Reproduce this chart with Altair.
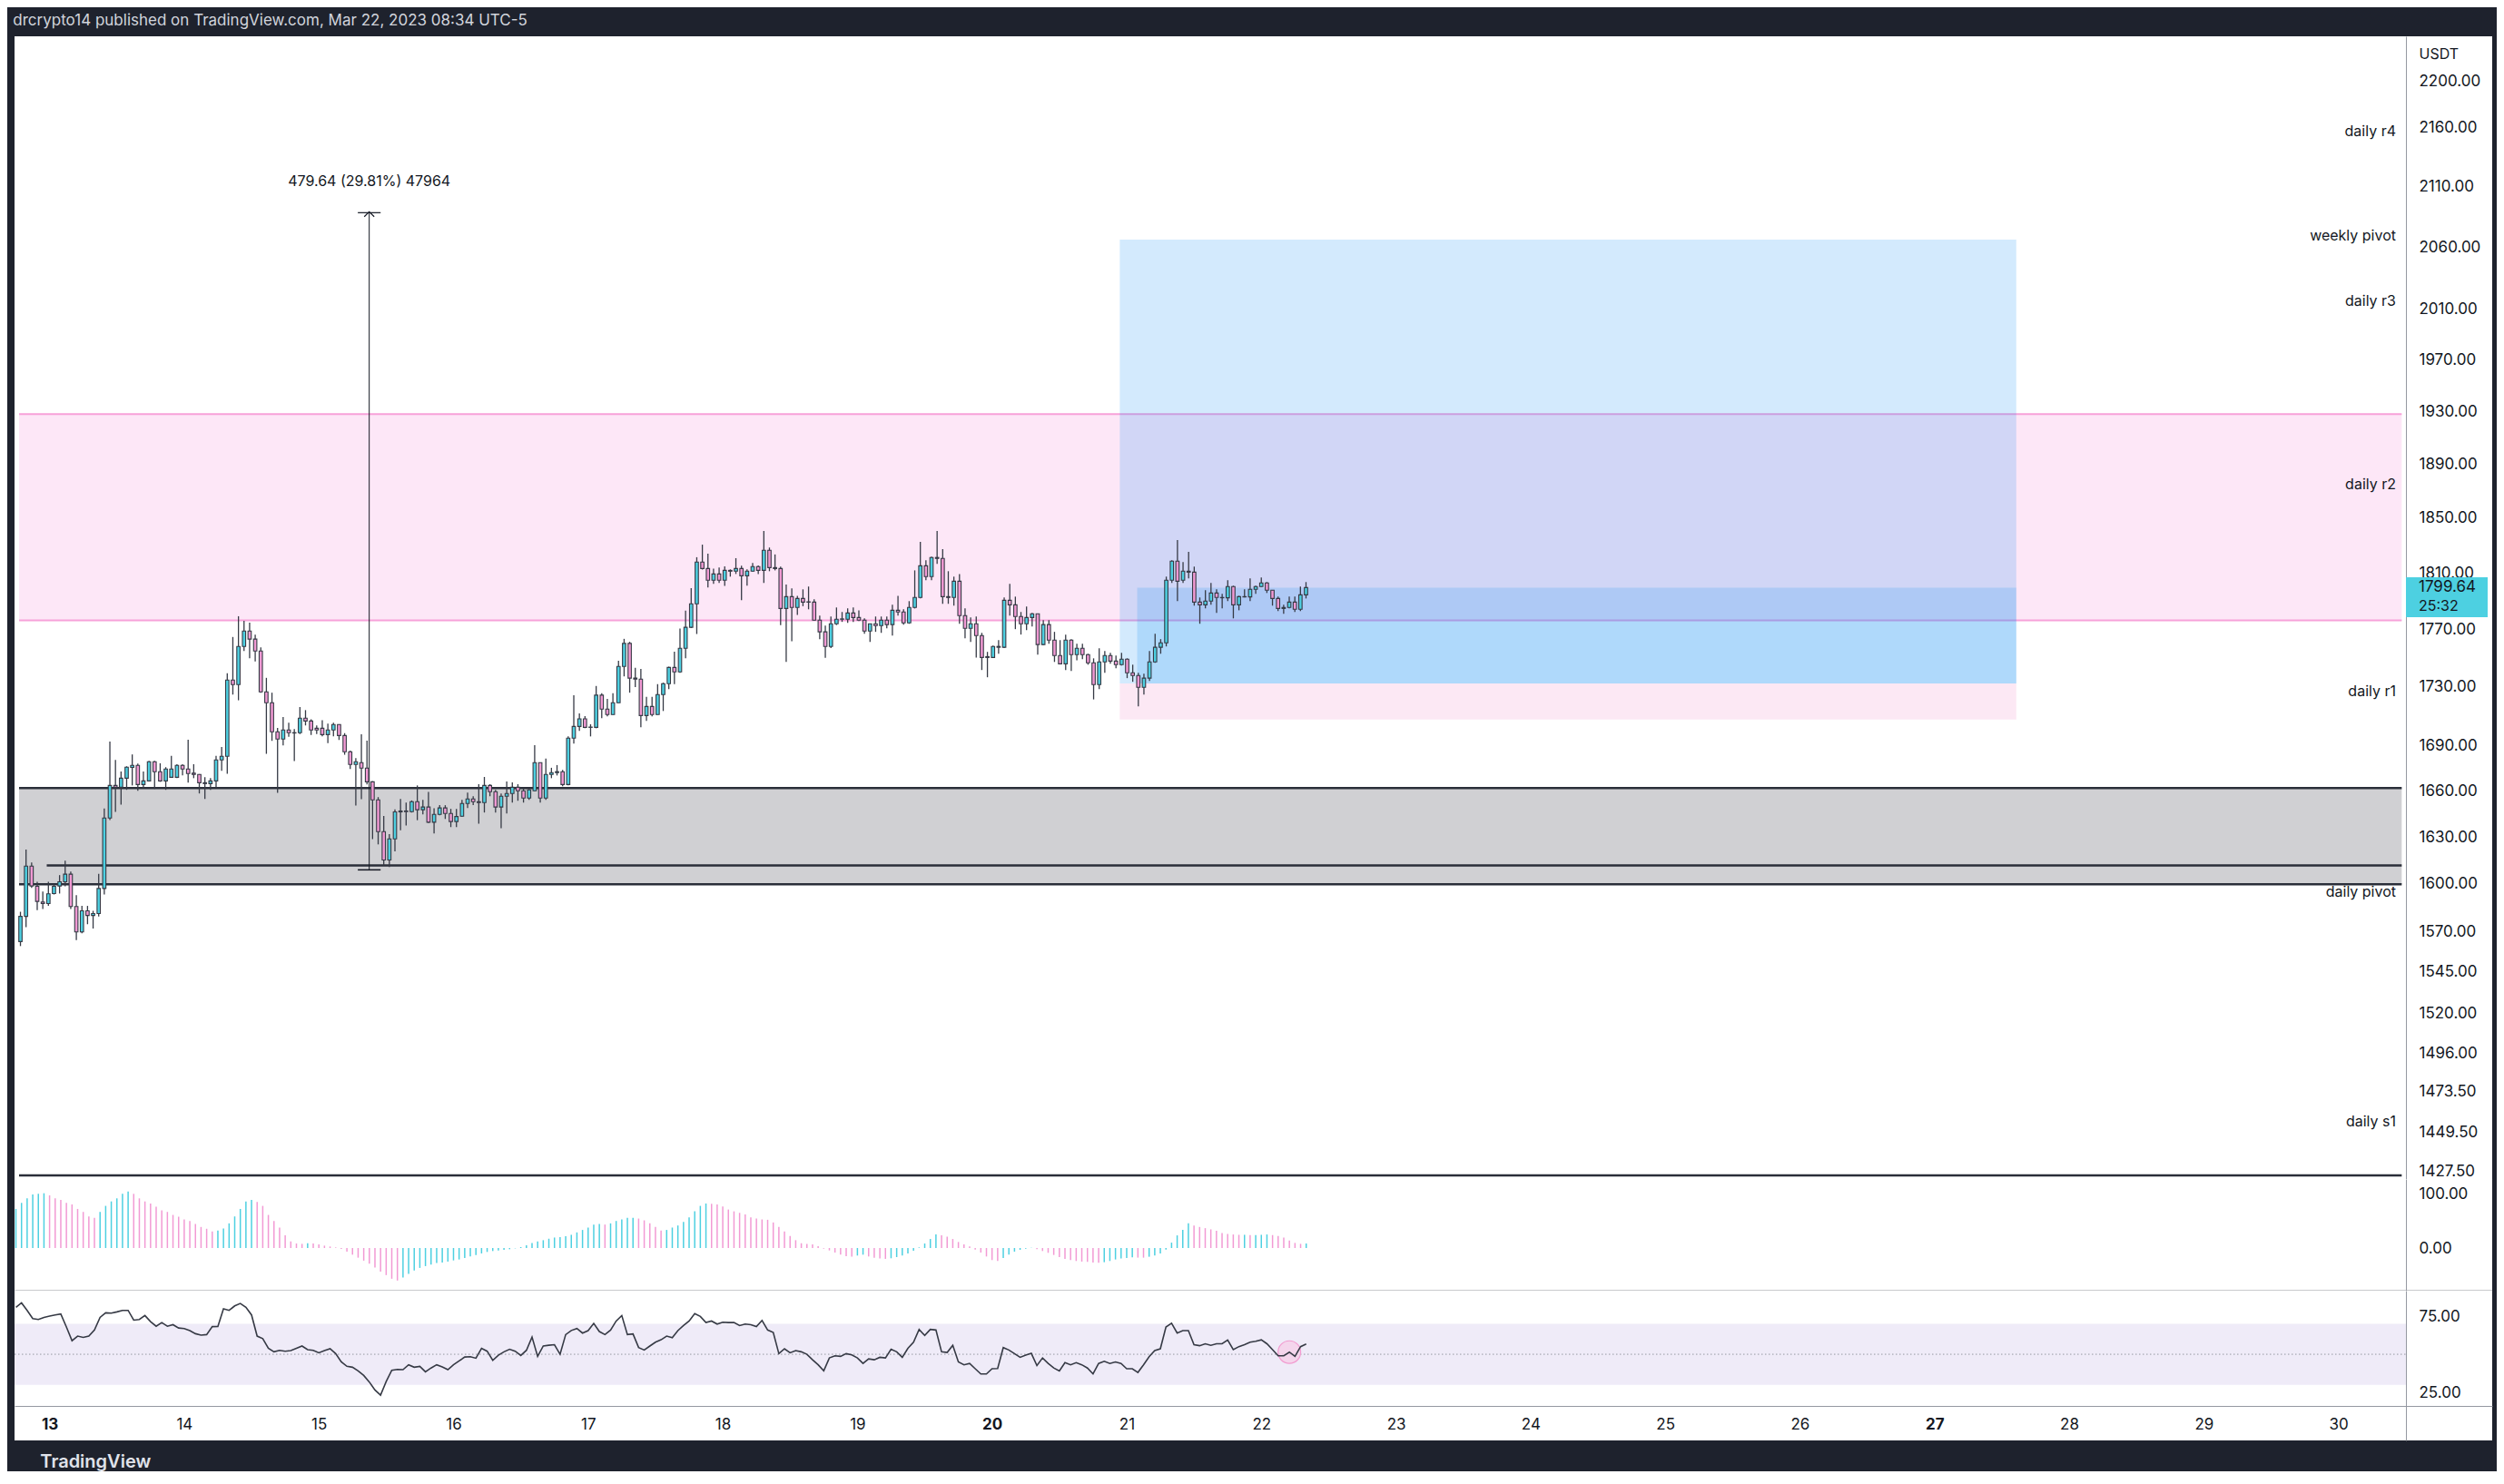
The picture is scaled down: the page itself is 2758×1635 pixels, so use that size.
import altair as alt
import pandas as pd

# ------------------------------------------------------------------ data
HEADER = "drcrypto14 published on TradingView.com, Mar 22, 2023 08:34 UTC-5"
FIRST_DAY = 12.75          # first hourly candle: Mar 12, 18:00
STEP = 1 / 24              # one hour, in days

opens = [1563.7, 1579.4, 1611.2, 1598.4, 1588.4, 1587.5, 1593.8, 1598.6, 1601.3, 1606.1,
         1585.6, 1569.7, 1582.9, 1580.0, 1581.2, 1597.0, 1642.3, 1663.7, 1662.5, 1668.5,
         1675.6, 1677.0, 1664.3, 1666.7, 1679.4, 1672.8, 1666.7, 1669.1, 1669.1, 1677.0,
         1674.6, 1671.8, 1671.0, 1665.5, 1664.9, 1666.7, 1680.6, 1683.1, 1734.8, 1731.7,
         1758.1, 1768.9, 1763.2, 1754.9, 1726.7, 1719.2, 1699.5, 1694.6, 1700.7, 1698.9,
         1698.9, 1708.7, 1706.8, 1701.9, 1701.9, 1697.6, 1700.7, 1704.4, 1697.0, 1686.1,
         1677.6, 1678.8, 1675.2, 1666.1, 1654.2, 1633.5, 1615.2, 1628.8, 1646.3, 1646.9,
         1646.5, 1653.0, 1647.7, 1649.5, 1639.6, 1644.7, 1648.9, 1645.3, 1640.0, 1643.5,
         1651.8, 1654.8, 1653.0, 1652.4, 1663.7, 1659.6, 1649.5, 1656.6, 1658.4, 1662.5,
         1660.2, 1655.4, 1660.2, 1678.8, 1655.4, 1671.0, 1672.2, 1672.8, 1664.3, 1695.2,
         1703.1, 1708.3, 1702.7, 1702.5, 1724.4, 1714.9, 1711.2, 1719.2, 1744.2, 1760.2,
         1736.1, 1735.4, 1710.5, 1716.7, 1711.2, 1724.8, 1732.3, 1743.5, 1740.4, 1756.8,
         1771.5, 1788.1, 1818.0, 1813.3, 1804.9, 1809.4, 1804.9, 1812.0, 1811.4, 1813.3,
         1808.1, 1811.4, 1814.7, 1812.0, 1826.5, 1814.0, 1813.3, 1784.8, 1793.2, 1785.5,
         1791.9, 1789.5, 1789.3, 1776.5, 1768.3, 1758.1, 1774.0, 1777.2, 1777.2, 1781.6,
         1778.4, 1776.5, 1768.9, 1774.0, 1772.7, 1776.5, 1773.4, 1783.5, 1782.3, 1774.6,
         1785.5, 1792.6, 1815.3, 1807.5, 1821.3, 1820.6, 1793.2, 1792.6, 1804.2, 1779.7,
         1770.8, 1774.0, 1765.7, 1751.0, 1750.4, 1758.1, 1757.5, 1790.6, 1787.4, 1779.1,
         1774.0, 1778.4, 1781.0, 1759.4, 1773.4, 1762.5, 1751.7, 1746.0, 1762.5, 1752.4,
         1756.8, 1752.4, 1746.7, 1731.7, 1747.3, 1751.7, 1747.9, 1745.4, 1749.2, 1739.8,
         1737.9, 1729.8, 1736.1, 1747.3, 1757.5, 1760.6, 1804.9, 1818.6, 1804.9, 1811.4,
         1810.7, 1789.3, 1787.4, 1790.0, 1795.8, 1792.6, 1792.4, 1800.4, 1787.4, 1793.2,
         1793.0, 1798.4, 1800.4, 1803.0, 1797.8, 1791.9, 1784.8, 1785.5, 1789.3, 1784.2,
         1794.5]
highs = [1582.3, 1621.9, 1613.5, 1601.3, 1595.1, 1601.3, 1599.7, 1605.5, 1614.8, 1607.7,
         1592.8, 1586.0, 1586.0, 1582.9, 1606.3, 1648.5, 1693.0, 1680.6, 1673.0, 1676.4,
         1684.3, 1678.2, 1673.0, 1680.0, 1680.0, 1678.4, 1675.8, 1683.3, 1677.8, 1677.8,
         1694.2, 1677.8, 1671.2, 1669.1, 1668.5, 1683.3, 1689.3, 1739.4, 1764.7, 1779.3,
         1776.1, 1774.8, 1766.4, 1757.5, 1736.3, 1726.1, 1702.1, 1709.5, 1705.6, 1701.3,
         1716.3, 1714.2, 1708.0, 1703.8, 1707.4, 1705.0, 1705.6, 1704.6, 1698.6, 1686.9,
         1681.9, 1697.8, 1693.6, 1666.5, 1656.0, 1643.7, 1631.9, 1647.9, 1654.8, 1652.4,
         1653.8, 1663.7, 1654.2, 1659.4, 1648.7, 1650.7, 1650.7, 1648.3, 1648.3, 1654.2,
         1659.0, 1656.6, 1664.5, 1669.3, 1664.5, 1660.8, 1658.4, 1666.3, 1665.7, 1664.5,
         1661.9, 1661.3, 1690.5, 1679.0, 1681.5, 1675.4, 1677.2, 1674.0, 1696.4, 1724.4,
         1712.0, 1710.1, 1704.6, 1730.7, 1725.7, 1721.9, 1725.7, 1748.1, 1763.4, 1761.3,
         1743.3, 1742.5, 1723.2, 1723.2, 1731.9, 1733.0, 1744.0, 1754.5, 1770.6, 1783.3,
         1799.3, 1821.5, 1830.6, 1824.1, 1813.3, 1814.0, 1814.9, 1812.7, 1820.8, 1815.3,
         1812.7, 1817.3, 1815.6, 1840.6, 1828.5, 1823.5, 1814.7, 1801.9, 1799.1, 1793.8,
         1798.4, 1800.4, 1791.3, 1779.7, 1772.7, 1779.1, 1785.5, 1782.3, 1784.8, 1785.5,
         1783.5, 1777.8, 1774.2, 1779.1, 1779.1, 1779.1, 1787.4, 1793.8, 1784.2, 1790.0,
         1812.0, 1832.6, 1819.3, 1822.0, 1840.6, 1827.4, 1811.4, 1807.5, 1809.4, 1784.8,
         1778.4, 1779.1, 1767.6, 1754.3, 1758.7, 1762.5, 1792.6, 1802.3, 1793.2, 1782.3,
         1786.1, 1781.6, 1781.2, 1776.5, 1776.5, 1768.3, 1762.5, 1766.4, 1763.2, 1760.0,
         1760.0, 1753.0, 1749.8, 1756.8, 1754.9, 1753.6, 1751.7, 1753.6, 1749.8, 1745.4,
         1739.8, 1739.2, 1754.9, 1767.0, 1763.2, 1807.5, 1819.3, 1833.9, 1818.0, 1825.4,
         1814.7, 1792.6, 1797.8, 1803.0, 1798.4, 1795.2, 1804.9, 1801.0, 1793.8, 1798.4,
         1806.2, 1801.0, 1806.9, 1803.6, 1797.9, 1793.2, 1787.4, 1793.2, 1793.2, 1800.4,
         1803.6]
lows = [1560.9, 1572.6, 1597.4, 1583.3, 1584.0, 1586.0, 1593.2, 1593.8, 1598.4, 1584.0,
        1564.6, 1568.8, 1574.5, 1571.8, 1579.4, 1593.2, 1641.0, 1646.3, 1651.0, 1660.8,
        1663.7, 1660.2, 1661.7, 1666.5, 1661.3, 1666.1, 1660.8, 1669.1, 1668.5, 1670.3,
        1665.5, 1668.5, 1658.4, 1654.8, 1660.8, 1662.3, 1673.4, 1671.4, 1724.8, 1720.9,
        1754.9, 1749.8, 1747.7, 1726.0, 1684.7, 1693.4, 1658.8, 1690.3, 1696.2, 1679.8,
        1698.0, 1703.8, 1697.4, 1698.0, 1696.4, 1691.9, 1696.4, 1694.0, 1684.1, 1674.6,
        1650.5, 1654.6, 1664.3, 1628.6, 1625.2, 1611.7, 1610.6, 1620.7, 1634.4, 1637.5,
        1645.9, 1640.9, 1644.7, 1639.0, 1632.3, 1644.1, 1641.7, 1636.4, 1636.4, 1643.0,
        1648.9, 1650.7, 1638.6, 1645.9, 1656.6, 1645.9, 1635.6, 1645.3, 1652.4, 1653.6,
        1652.4, 1654.2, 1660.0, 1652.4, 1654.2, 1668.5, 1670.3, 1663.1, 1663.7, 1691.6,
        1700.1, 1702.0, 1696.4, 1701.9, 1708.7, 1710.0, 1711.0, 1719.0, 1737.3, 1726.1,
        1730.0, 1702.5, 1706.8, 1710.0, 1711.0, 1713.6, 1728.6, 1732.0, 1739.8, 1749.8,
        1771.0, 1766.8, 1812.6, 1799.7, 1802.3, 1803.0, 1800.8, 1807.5, 1809.4, 1790.6,
        1801.0, 1811.0, 1809.4, 1803.0, 1811.4, 1812.0, 1773.1, 1747.3, 1761.7, 1780.3,
        1786.4, 1784.2, 1776.0, 1763.2, 1750.2, 1757.0, 1773.1, 1775.3, 1774.6, 1775.3,
        1775.9, 1767.0, 1761.3, 1768.3, 1767.6, 1770.8, 1765.7, 1779.7, 1773.4, 1774.0,
        1784.8, 1792.0, 1804.9, 1804.9, 1816.6, 1788.1, 1788.1, 1786.8, 1774.0, 1763.8,
        1761.3, 1750.4, 1741.7, 1736.7, 1750.4, 1753.0, 1757.0, 1779.7, 1770.2, 1766.4,
        1769.5, 1772.1, 1752.4, 1759.0, 1760.0, 1747.3, 1745.8, 1741.7, 1741.1, 1748.5,
        1749.2, 1745.4, 1721.5, 1728.6, 1739.8, 1746.0, 1742.9, 1744.8, 1736.1, 1733.6,
        1716.7, 1724.8, 1734.2, 1746.7, 1753.0, 1758.1, 1803.0, 1790.0, 1803.0, 1806.2,
        1786.8, 1774.0, 1784.8, 1787.4, 1781.6, 1784.8, 1790.0, 1777.8, 1783.5, 1792.6,
        1790.0, 1795.2, 1800.0, 1795.8, 1786.8, 1782.9, 1781.0, 1784.8, 1782.3, 1782.9,
        1791.9]
closes = [1579.4, 1611.2, 1598.6, 1588.8, 1587.5, 1593.6, 1598.4, 1601.3, 1606.1, 1585.6,
          1569.7, 1582.9, 1580.0, 1581.2, 1597.0, 1642.3, 1663.7, 1662.5, 1668.5, 1675.8,
          1677.0, 1664.3, 1666.7, 1679.4, 1672.8, 1666.7, 1674.6, 1674.6, 1677.0, 1674.6,
          1671.6, 1671.0, 1665.5, 1664.9, 1666.7, 1680.6, 1683.1, 1734.8, 1731.7, 1758.1,
          1768.9, 1763.2, 1754.9, 1726.7, 1719.2, 1699.5, 1694.6, 1700.7, 1698.9, 1698.7,
          1708.7, 1706.8, 1700.7, 1700.7, 1697.6, 1700.7, 1704.4, 1697.0, 1686.1, 1677.6,
          1679.4, 1675.2, 1666.1, 1654.2, 1633.5, 1615.2, 1628.8, 1646.3, 1646.9, 1646.5,
          1653.0, 1647.7, 1649.5, 1639.6, 1644.7, 1648.9, 1645.3, 1640.0, 1643.3, 1651.8,
          1654.8, 1653.0, 1652.4, 1663.7, 1659.6, 1649.5, 1656.6, 1658.4, 1662.5, 1660.2,
          1655.4, 1660.8, 1678.8, 1655.4, 1671.0, 1672.2, 1672.8, 1664.3, 1695.2, 1703.1,
          1708.3, 1702.5, 1702.5, 1724.4, 1714.9, 1711.2, 1719.2, 1744.2, 1760.2, 1736.1,
          1735.4, 1710.5, 1716.7, 1711.2, 1724.8, 1732.3, 1743.5, 1740.4, 1756.8, 1771.5,
          1788.1, 1818.0, 1813.3, 1804.9, 1809.4, 1804.9, 1812.0, 1811.4, 1813.3, 1808.1,
          1811.4, 1814.7, 1812.0, 1826.5, 1814.0, 1813.3, 1784.8, 1793.2, 1785.5, 1791.9,
          1789.3, 1789.3, 1776.5, 1768.3, 1758.1, 1774.0, 1777.2, 1777.4, 1781.6, 1778.4,
          1776.5, 1768.9, 1774.0, 1772.7, 1776.5, 1773.4, 1783.5, 1782.3, 1774.6, 1785.5,
          1792.6, 1815.3, 1807.5, 1821.3, 1820.6, 1793.2, 1792.6, 1804.2, 1779.7, 1770.8,
          1774.0, 1765.7, 1750.4, 1750.4, 1758.1, 1757.5, 1790.6, 1787.4, 1779.1, 1774.0,
          1778.4, 1781.0, 1759.4, 1773.4, 1762.5, 1751.7, 1746.0, 1762.5, 1752.4, 1756.8,
          1752.4, 1746.7, 1731.7, 1747.3, 1751.7, 1747.9, 1745.4, 1749.2, 1739.8, 1737.9,
          1729.8, 1736.1, 1747.3, 1757.5, 1760.6, 1804.9, 1818.6, 1804.2, 1811.4, 1810.7,
          1789.3, 1787.4, 1790.0, 1795.8, 1792.6, 1792.4, 1800.4, 1787.4, 1793.2, 1793.0,
          1798.4, 1800.4, 1803.0, 1797.8, 1791.9, 1784.8, 1785.5, 1789.3, 1784.2, 1794.5,
          1799.64]

macd_hist = [71.8, 82.9, 91.2, 98.3, 99.5, 100.6, 96.7, 91.2, 88.4, 82.9,
             80.1, 71.8, 66.3, 58.0, 55.3, 66.3, 77.4, 85.6, 91.2, 99.5,
             103.9, 99.5, 91.2, 85.6, 81.8, 75.7, 69.1, 66.3, 60.8, 57.5,
             52.5, 49.7, 44.2, 38.7, 35.4, 30.4, 32.0, 35.9, 45.3, 58.0,
             71.8, 85.6, 88.4, 84.5, 77.4, 60.8, 49.7, 37.6, 23.2, 12.2,
             8.3, 7.7, 8.8, 8.3, 6.6, 4.4, 2.8, 1.1, -1.7, -6.6,
             -12.2, -17.7, -23.2, -28.7, -35.9, -43.1, -49.7, -56.4, -59.7, -54.1,
             -47.5, -41.4, -36.5, -33.2, -30.4, -27.6, -26.5, -24.9, -22.7, -21.0,
             -18.2, -15.5, -12.7, -9.9, -7.2, -5.5, -4.4, -3.3, -2.2, -0.6,
             1.7, 5.0, 9.4, 12.2, 14.4, 17.1, 19.3, 19.9, 21.5, 24.3,
             28.7, 33.2, 37.6, 43.1, 44.2, 43.1, 45.3, 49.7, 52.5, 55.3,
             55.3, 54.1, 50.8, 45.3, 38.7, 32.0, 33.2, 37.6, 41.4, 48.1,
             56.4, 67.4, 77.4, 81.8, 81.2, 80.1, 76.2, 70.7, 67.4, 64.6,
             61.9, 56.4, 54.1, 52.5, 51.9, 47.0, 38.7, 30.4, 22.1, 14.4,
             8.8, 7.7, 6.6, 3.3, -1.1, -4.4, -8.3, -12.2, -14.9, -16.0,
             -13.8, -12.2, -15.5, -17.7, -19.3, -19.9, -18.8, -16.6, -13.8, -9.9,
             -5.0, 1.1, 8.3, 16.6, 24.9, 23.2, 21.0, 16.6, 11.1, 6.6,
             2.8, -2.8, -8.3, -15.5, -22.1, -23.8, -18.2, -12.2, -6.6, -3.3,
             -1.1, 0.3, -2.2, -5.5, -8.8, -12.7, -16.6, -19.9, -22.1, -23.8,
             -24.9, -25.4, -26.5, -27.1, -26.0, -23.8, -21.0, -19.3, -18.2, -17.1,
             -17.6, -17.7, -16.0, -13.8, -9.9, -2.8, 9.9, 23.2, 33.2, 45.3,
             41.4, 38.7, 36.5, 34.3, 31.5, 27.6, 26.0, 24.9, 24.3, 24.3,
             23.8, 23.8, 24.3, 24.9, 23.8, 22.1, 19.3, 13.8, 9.4, 7.7,
             8.3]

rsi = [80.8, 83.7, 78.8, 73.4, 72.8, 74.2, 75.0, 75.8, 76.4, 67.9,
       58.9, 61.9, 61.1, 61.9, 65.9, 74.2, 77.2, 77.0, 77.8, 78.8,
       78.8, 72.4, 72.8, 75.4, 71.4, 68.4, 70.8, 68.4, 69.4, 67.2,
       66.9, 65.5, 63.5, 62.5, 62.9, 68.1, 68.2, 79.8, 78.8, 81.7,
       83.3, 80.8, 75.8, 61.9, 60.3, 53.9, 51.6, 52.6, 52.0, 52.4,
       53.9, 55.4, 53.0, 52.6, 51.0, 52.4, 53.6, 50.4, 45.0, 42.1,
       41.5, 39.1, 36.1, 31.8, 26.6, 23.2, 32.1, 39.5, 40.1, 39.9,
       43.1, 41.5, 42.1, 38.5, 41.0, 43.1, 41.7, 39.9, 43.1, 45.6,
       48.2, 48.4, 47.4, 53.9, 52.0, 46.0, 49.4, 51.6, 53.3, 52.0,
       49.2, 52.6, 61.3, 48.6, 55.4, 55.9, 56.3, 50.0, 62.9, 65.6,
       66.9, 63.9, 65.5, 70.2, 64.9, 62.9, 65.9, 71.8, 75.4, 62.9,
       63.3, 54.4, 52.8, 55.4, 57.9, 59.5, 61.9, 60.9, 65.5, 68.8,
       71.8, 76.6, 74.8, 70.8, 71.8, 69.8, 71.0, 70.8, 70.8, 68.8,
       69.8, 69.4, 68.2, 72.2, 65.9, 64.3, 50.4, 53.6, 51.0, 52.4,
       51.6, 50.0, 46.4, 43.1, 39.1, 47.6, 49.0, 48.6, 50.4, 49.6,
       47.6, 44.0, 47.0, 46.4, 48.0, 47.6, 53.3, 51.6, 48.0, 53.9,
       57.9, 66.3, 62.3, 66.3, 65.9, 51.6, 51.2, 55.9, 45.0, 43.1,
       44.0, 40.5, 37.1, 37.1, 40.5, 40.7, 54.4, 52.8, 50.4, 48.0,
       49.4, 50.6, 42.6, 47.6, 44.0, 41.0, 39.1, 44.5, 43.1, 44.5,
       43.1, 41.0, 37.1, 44.0, 45.4, 44.0, 45.0, 44.0, 40.5, 40.5,
       38.1, 43.1, 48.4, 52.4, 53.6, 67.9, 70.4, 63.9, 65.5, 65.5,
       56.3, 55.6, 56.9, 55.9, 56.9, 56.9, 59.3, 53.0, 55.0, 56.3,
       57.9, 58.5, 59.5, 56.9, 53.0, 49.0, 49.0, 51.4, 48.6, 55.0,
       56.7]

price_ticks = [2200, 2160, 2110, 2060, 2010, 1970, 1930, 1890, 1850, 1810, 1770, 1730,
               1690, 1660, 1630, 1600, 1570, 1545, 1520, 1496, 1473.5, 1449.5, 1427.5]
day_ticks = list(range(13, 31))
bold_days = [13, 20, 27]

pivot_names = ["daily r4", "weekly pivot", "daily r3", "daily r2", "daily r1",
               "daily pivot", "daily s1"]
pivot_label_prices = [2157, 2069, 2016, 1875, 1726.8, 1594.4, 1455.7]

pink_zone = [1776.3, 1928.0]
gray_zone = [1599.6, 1662.0]
gray_mid_line = 1611.7
gray_mid_start = 12.946
low_line = 1425.1

measure_day = 15.35
measure_tick = [15.265, 15.435]
measure_low, measure_high = 1608.86, 2088.50
measure_text = "479.64 (29.81%) 47964"

pos_start, pos_trigger, pos_end = 20.945, 21.075, 27.628
pos_target, pos_entry, pos_stop = 2066.3, 1732.4, 1707.8
countdown = "25:32"
rsi_marker_index = 227

# ------------------------------------------------------------------ layout
W = 2729
H_MAIN, H_HIST, H_RSI = 1259, 123, 165
X_DOMAIN = [12.7397, 31.142]
AXIS_OFFSET = 95                       # price axis sits this far inside the right edge
axis_day = X_DOMAIN[0] + (W - AXIS_OFFSET) / W * (X_DOMAIN[1] - X_DOMAIN[0])
left_day = X_DOMAIN[0]

FONT = "Inter"
INK = "#131722"
DARK = "#2a2e39"
WICK = "#363a45"
CYAN = "#4dd0e1"
PINK = "#f29ad4"
AXIS_GRAY = "#9598a1"

n = len(closes)
days = [FIRST_DAY + i * STEP for i in range(n)]
candles = pd.DataFrame({"day": days, "open": opens, "high": highs, "low": lows, "close": closes})
candles["dir"] = ["up" if c >= o else "down" for o, c in zip(opens, closes)]

hist_df = pd.DataFrame({"day": days, "v": macd_hist})
hist_df["dir"] = ["up" if i == 0 or v >= macd_hist[i - 1] else "down" for i, v in enumerate(macd_hist)]
rsi_df = pd.DataFrame({"day": days, "rsi": rsi})

sx = alt.Scale(domain=X_DOMAIN, nice=False, zero=False)
sy = alt.Scale(type="log", domain=[1423, 2240], nice=False, zero=False)
dir_color = alt.Scale(domain=["up", "down"], range=[CYAN, PINK])


def right_axis(values, **kw):
    return alt.Axis(orient="right", offset=-AXIS_OFFSET, values=values, format=".2f",
                    labelAlign="left", labelBaseline="middle", labelPadding=14,
                    ticks=False, grid=False, domainColor=AXIS_GRAY, labelOverlap=False,
                    labelBound=False, labelFlush=False, **kw)


main_x_axis = alt.Axis(labels=False, ticks=False, grid=False, title=None,
                       domainColor=DARK, domainWidth=1)
main_y_axis = right_axis(price_ticks, title="USDT", titleAngle=0, titleX=14, titleY=19,
                         titleAlign="left", titleBaseline="middle", titleFontWeight="normal",
                         titleFontSize=16, titleColor=INK)

MX = lambda f="day": alt.X(f, type="quantitative", scale=sx, axis=main_x_axis)
MY = lambda f: alt.Y(f, type="quantitative", scale=sy, axis=main_y_axis)

# ------------------------------------------------------------------ main pane
def zone(x0, x1, y0, y1, **mk):
    df = pd.DataFrame({"x0": [x0], "x1": [x1], "y0": [y0], "y1": [y1]})
    return alt.Chart(df).mark_rect(clip=True, **mk).encode(
        x=MX("x0"), x2="x1", y=MY("y0"), y2="y1")


def hline(x0, x1, y, **mk):
    df = pd.DataFrame({"x0": [x0], "x1": [x1], "y": [y]})
    return alt.Chart(df).mark_rule(clip=True, **mk).encode(
        x=MX("x0"), x2="x1", y=MY("y"))


layers = [
    zone(left_day, axis_day, pink_zone[0], pink_zone[1], color="#fde7f7"),
    hline(left_day, axis_day, pink_zone[0], color="#f7a1d9", strokeWidth=2),
    hline(left_day, axis_day, pink_zone[1], color="#f7a1d9", strokeWidth=2),
    zone(left_day, axis_day, gray_zone[0], gray_zone[1], color="#d0d0d3"),
    hline(left_day, axis_day, gray_zone[0], color=DARK, strokeWidth=2.5),
    hline(left_day, axis_day, gray_zone[1], color=DARK, strokeWidth=2.5),
    hline(gray_mid_start, axis_day, gray_mid_line, color=DARK, strokeWidth=2.5),
    hline(left_day, axis_day, low_line, color=DARK, strokeWidth=2.5),
    zone(pos_start, pos_end, pos_entry, pos_target, color="#2196f3", opacity=0.2),
    zone(pos_start, pos_end, pos_stop, pos_entry, color="#fce8f4"),
    zone(pos_trigger, pos_end, pos_entry, closes[-1], color="#2196f3", opacity=0.2),
]

# measurement tool
mdf = pd.DataFrame({"d": [measure_day], "lo": [measure_low], "hi": [measure_high],
                    "t0": [measure_tick[0]], "t1": [measure_tick[1]], "txt": [measure_text]})
layers += [
    alt.Chart(mdf).mark_rule(color=INK, strokeWidth=1).encode(x=MX("d"), y=MY("lo"), y2="hi"),
    alt.Chart(mdf).mark_rule(color=INK, strokeWidth=1.5).encode(x=MX("t0"), x2="t1", y=MY("lo")),
    alt.Chart(mdf).mark_point(shape="M-1,0.8L0,-0.2L1,0.8", size=120, filled=False,
                              color=INK, strokeWidth=1.2, opacity=1).encode(x=MX("d"), y=MY("hi")),
    alt.Chart(mdf).mark_rule(color=INK, strokeWidth=1.2).encode(x=MX("t0"), x2="t1", y=MY("hi")),
    alt.Chart(mdf).mark_text(font=FONT, fontSize=16, color=INK, dy=-34, align="center").encode(
        x=MX("d"), y=MY("hi"), text="txt:N"),
]

# candles
cbase = alt.Chart(candles)
layers += [
    cbase.mark_rule(color=WICK, strokeWidth=1.3, clip=True).encode(x=MX(), y=MY("low"), y2="high"),
    cbase.mark_bar(width=3.6, stroke=WICK, strokeWidth=1.1, clip=True).encode(
        x=MX(), y=MY("open"), y2="close",
        color=alt.Color("dir:N", scale=dir_color, legend=None)),
]

# pivot labels
pdf = pd.DataFrame({"name": pivot_names, "p": pivot_label_prices})
layers.append(
    alt.Chart(pdf).mark_text(font=FONT, fontSize=16, color=INK, align="right", baseline="middle").encode(
        x=alt.value(W - 106), y=MY("p"), text="name:N"))

# last price tag
tag = pd.DataFrame({"p": [closes[-1]], "txt": [f"{closes[-1]:.2f}"], "cd": [countdown]})
layers += [
    alt.Chart(tag).mark_point(shape="M-1,-0.489H1V0.489H-1Z", size=8100, filled=True,
                              color=CYAN, opacity=1, yOffset=10.6).encode(
        x=alt.value(W - 50), y=MY("p")),
    alt.Chart(tag).mark_text(font=FONT, fontSize=17, color=INK, align="left", baseline="middle").encode(
        x=alt.value(W - AXIS_OFFSET + 14), y=MY("p"), text="txt:N"),
    alt.Chart(tag).mark_text(font=FONT, fontSize=16, color=INK, align="left", baseline="middle", dy=21).encode(
        x=alt.value(W - AXIS_OFFSET + 14), y=MY("p"), text="cd:N"),
]

main = alt.layer(*layers).properties(width=W, height=H_MAIN)

# ------------------------------------------------------------------ histogram pane
shy = alt.Scale(domain=[-78.3, 126.7], nice=False, zero=False)
hist = alt.Chart(hist_df).mark_rule(strokeWidth=1.5).encode(
    x=alt.X("day:Q", scale=sx,
            axis=alt.Axis(labels=False, ticks=False, grid=False, title=None,
                          domainColor=DARK, domainWidth=1.5)),
    y=alt.Y("v:Q", scale=shy, axis=right_axis([0, 100], title=None)),
    y2=alt.datum(0),
    color=alt.Color("dir:N", scale=alt.Scale(domain=["up", "down"], range=["#26c6da", "#f59ad3"]),
                    legend=None),
).properties(width=W, height=H_HIST)

# ------------------------------------------------------------------ RSI pane
sry = alt.Scale(domain=[-6.5, 91.7], nice=False, zero=False)
bold_test = " || ".join(f"datum.value == {d}" for d in bold_days)
rsi_x_axis = alt.Axis(orient="bottom", offset=-38, values=day_ticks, format="d",
                      labelFontSize=17, labelPadding=20, labelBaseline="middle",
                      labelFontWeight={"condition": {"test": bold_test, "value": "bold"}, "value": "normal"},
                      ticks=False, tickSize=0, grid=False, title=None, domainColor=AXIS_GRAY,
                      labelOverlap=False)
rsi_y_axis = right_axis([25, 75], title=None)
RX = lambda f="day": alt.X(f, type="quantitative", scale=sx, axis=rsi_x_axis)
RY = lambda f: alt.Y(f, type="quantitative", scale=sry, axis=rsi_y_axis)

band = pd.DataFrame({"x0": [left_day], "x1": [axis_day], "lo": [30], "hi": [70], "mid": [50]})
rsi_band = alt.Chart(band).mark_rect(color="#efebf8").encode(x=RX("x0"), x2="x1", y=RY("lo"), y2="hi")
rsi_mid = alt.Chart(band).mark_rule(color=AXIS_GRAY, strokeWidth=1, strokeDash=[1.5, 2.5]).encode(
    x=RX("x0"), x2="x1", y=RY("mid"))
rsi_dot = alt.Chart(rsi_df.iloc[[rsi_marker_index]]).mark_point(
    filled=True, size=620, fill="#f6cde8", fillOpacity=0.75, stroke="#f29bd0", strokeWidth=1.2,
    opacity=1).encode(x=RX(), y=RY("rsi"))
rsi_line = alt.Chart(rsi_df).mark_line(color=WICK, strokeWidth=1.6).encode(x=RX(), y=RY("rsi"))

rsi_pane = alt.layer(rsi_band, rsi_mid, rsi_dot, rsi_line).properties(
    width=W, height=H_RSI,
    title=alt.TitleParams("TradingView", orient="bottom", anchor="start", color="#e0e3eb",
                          font=FONT, fontSize=20, fontWeight=600, offset=14, dx=30),
)

chart = alt.vconcat(main, hist, rsi_pane, spacing=0).properties(
    title=alt.TitleParams(HEADER, anchor="start", color="#d1d4dc", font=FONT, fontSize=17,
                          fontWeight="normal", offset=8),
    background="#1e222d",
    padding={"left": 6, "top": 6, "right": 5, "bottom": 0},
).configure_view(stroke=None, fill="white").configure_axis(
    labelFont=FONT, titleFont=FONT, labelFontSize=17, labelColor=INK,
).configure_text(font=FONT)

chart.save("out.html", embed_options={"renderer": "svg", "actions": False})
